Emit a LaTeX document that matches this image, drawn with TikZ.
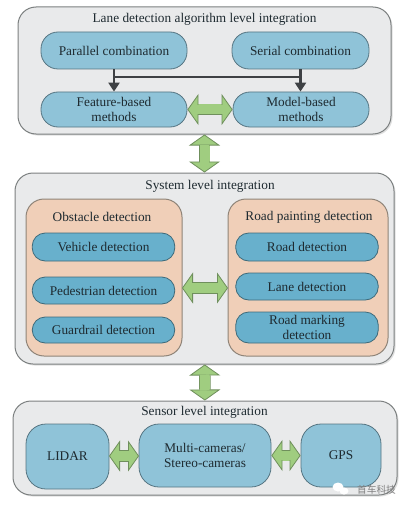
\documentclass[tikz,border=0pt]{standalone}
\usepackage{fontspec}
\setmainfont{Liberation Serif}
\newfontfamily\cjkmark{Noto Sans CJK SC}
\usetikzlibrary{arrows.meta, positioning, calc, shadows}
\definecolor{cpanel}{HTML}{E9EAEB}
\definecolor{cedge}{HTML}{7C8080}
\definecolor{cpill}{HTML}{8FC3D8}
\definecolor{cpilldark}{HTML}{68B0CC}
\definecolor{cpeach}{HTML}{F0CFB8}
\definecolor{cpeachedge}{HTML}{8F8478}
\definecolor{cgreen}{HTML}{A0CD80}
\definecolor{cgreenedge}{HTML}{6F8F5C}
\definecolor{cdark}{HTML}{3E4144}
\definecolor{ctext}{HTML}{1E2A30}
\tikzset{
  every picture/.style={x=1pt, y=-1pt, font=\fontsize{13.3}{14.5}\selectfont, text=ctext},
  panel/.style={draw=cedge, fill=cpanel, rounded corners=18pt, line width=1pt, inner sep=0pt,
    drop shadow={opacity=.25, shadow xshift=1.5pt, shadow yshift=-1.5pt}},
  group/.style={draw=cpeachedge, fill=cpeach, rounded corners=18pt, line width=1pt, inner sep=0pt},
  pill/.style={draw=#1!60!black, fill=#1, rounded corners=15pt, align=center, line width=.8pt, inner sep=0pt},
  pill/.default=cpill,
  conn/.style={-{Triangle[length=9pt, width=11pt]}, draw=cdark, fill=cdark, line width=2.4pt},
  fatarrow/.style={{Triangle[length=11pt, width=31pt, fill=cgreen, line width=.8pt]}-{Triangle[length=11pt, width=31pt, fill=cgreen, line width=.8pt]},
    draw=cgreenedge, line width=.8pt, double=cgreen, double distance=10pt},
  fatcore/.style={draw=cgreen, line width=9.4pt, shorten >=10pt, shorten <=10pt},
}
\begin{document}
\begin{tikzpicture}
  \useasboundingbox (0,0) rectangle (408,508);
  % panels
  \foreach \n/\x/\y/\w/\h in {algo/204.5/70.5/373/127,system/204.5/268.5/379/191,sensor/205/448/384/94} {
    \node[panel, minimum width=\w pt, minimum height=\h pt] (\n) at (\x,\y) {};
  }
  \node (algotitle) at (204.5,19) {Lane detection algorithm level integration};
  \node (systemtitle) at (210,186) {System level integration};
  \node (sensortitle) at (204.5,412) {Sensor level integration};
  % groups
  \node[group, minimum width=156pt, minimum height=157pt] (obstacle) at (104,277.5) {};
  \node[group, minimum width=160pt, minimum height=157pt] (painting) at (308,277.5) {};
  \node (obstacletitle) at (102,217) {Obstacle detection};
  \node (paintingtitle) at (309,217) {Road painting detection};
  % algorithm level
  \foreach \n/\x/\y/\w/\h/\t in {par/114/50.5/146/37/Parallel combination,
    ser/300.5/50.5/137/37/Serial combination,
    feat/114/109.5/146/35/{Feature-based\\methods},
    model/301/109.5/136/35/{Model-based\\methods}} {
    \node[pill, rounded corners=17pt, minimum width=\w pt, minimum height=\h pt] (\n) at (\x,\y) {\t};
  }
  \coordinate (parjoin) at ($(par.south)+(0,7.5)$);
  \coordinate (serjoin) at ($(ser.south)+(0,7.5)$);
  \draw[conn] (par.south) -- (par.south |- feat.north);
  \draw[conn] (ser.south) -- (ser.south |- model.north);
  \draw[draw=cdark, line width=2.4pt] (parjoin) -- (serjoin);
  % system level
  \foreach \n/\x/\y/\h/\t in {veh/103.5/247/28/Vehicle detection,
    ped/103.5/290.5/27/Pedestrian detection,
    guard/103.5/330/26/Guardrail detection,
    road/307/247/28/Road detection,
    lane/307/286.5/27/Lane detection,
    mark/307/327.5/31/{Road marking\\detection}} {
    \node[pill=cpilldark, rounded corners=13pt, minimum width=142.5pt, minimum height=\h pt] (\n) at (\x,\y) {\t};
  }
  % sensor level
  \foreach \n/\x/\y/\w/\h/\t in {lidar/67.5/456.5/83/65/LIDAR,
    multi/205/455.5/132/63/{Multi-cameras/\\Stereo-cameras},
    gps/341/455.5/80/63/GPS} {
    \node[pill, rounded corners=20pt, minimum width=\w pt, minimum height=\h pt] (\n) at (\x,\y) {\t};
  }
  % block arrows
  \coordinate (obstacleport) at (182,288);
  \coordinate (paintingport) at (228,288);
  \coordinate (lidarport) at (109,456);
  \coordinate (multiport) at (139,456);
  \foreach \a/\b in {feat/model,algo/system,obstacleport/paintingport,system/sensor,lidarport/multiport,multi/gps} {
    \draw[fatarrow] (\a) -- (\b);
    \draw[fatcore] (\a) -- (\b);
  }
  % watermark
  \fill[white] (338,487) ellipse (5.5pt and 4.5pt);
  \fill[white] (344,491) ellipse (4.5pt and 3.5pt);
  \node[font=\cjkmark\fontsize{9.7}{12}\selectfont, text=black!50] (brand) at (376.5,490) {首车科技};
\end{tikzpicture}
\end{document}
